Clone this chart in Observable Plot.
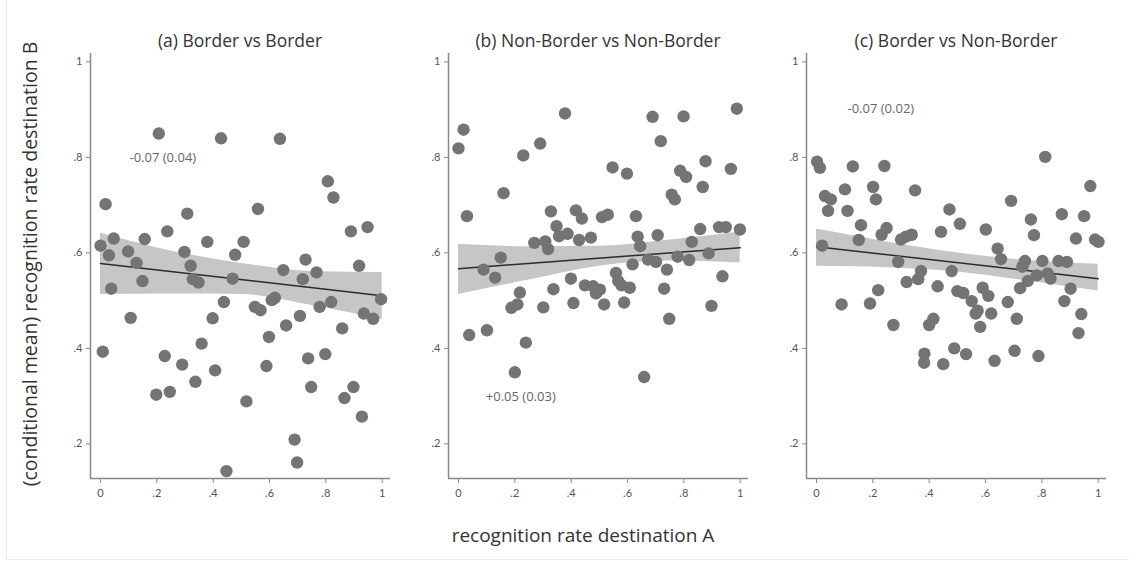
<!DOCTYPE html>
<html>
<head>
<meta charset="utf-8">
<script src="https://cdn.jsdelivr.net/npm/d3@7"></script>
<script src="https://cdn.jsdelivr.net/npm/@observablehq/plot@0.6"></script>
<style>
  html, body { margin: 0; padding: 0; background: #fff; }
  #wrap { position: relative; width: 1129px; height: 563px; overflow: hidden; font-family: "Open Sans", Lato, sans-serif; }
  .frame { position: absolute; left: 6px; top: 0px; width: 1130px; height: 560px; border-left: 1px solid #ececec; border-bottom: 1px solid #ececec; box-sizing: border-box; }
  .panel { position: absolute; top: 0; }
  .title { position: absolute; top: 28px; font-size: 17.5px; color: #333; text-align: center; width: 300px; white-space: nowrap; line-height: 24px; }
  .xlab { position: absolute; left: 383px; width: 400px; top: 522px; text-align: center; font-size: 19px; color: #333; line-height: 26px; }
  .ylab { position: absolute; left: 30px; top: 264px; transform: translate(-50%, -50%) rotate(-90deg); font-size: 19.5px; color: #333; white-space: nowrap; line-height: 26px; }
</style>
</head>
<body>
<div id="wrap">
  <div class="frame"></div>
</div>
<script>
// ---- data ----
const panelTitles = ["(a) Border vs Border", "(b) Non-Border vs Non-Border", "(c) Border vs Non-Border"];
const slopeLabels = ["-0.07 (0.04)", "+0.05 (0.03)", "-0.07 (0.02)"];
const slopeLabelX = [0.103, 0.097, 0.110];
const slopeLabelY = [0.800, 0.298, 0.901];

const xTicks = [0, 0.2, 0.4, 0.6, 0.8, 1];
const xTickLabels = ["0", ".2", ".4", ".6", ".8", "1"];
const yTicks = [0.2, 0.4, 0.6, 0.8, 1];
const yTickLabels = [".2", ".4", ".6", ".8", "1"];

const aX = [0.207,0.428,0.637,0.807,0.827,0.018,0.308,0.559,
  0.000,0.030,0.047,0.038,0.008,0.098,0.128,0.107,0.157,0.149,0.198,0.228,0.237,0.246,0.290,0.298,0.320,0.328,0.348,0.337,0.359,0.379,0.398,0.407,0.438,0.447,0.469,0.478,0.508,0.518,0.548,0.568,0.589,0.598,0.608,0.619,0.649,0.659,0.689,0.698,0.708,0.718,0.728,0.737,0.748,0.767,0.778,0.798,0.819,0.858,0.866,0.889,0.898,0.918,0.928,0.948,0.935,0.968,0.996];
const aY = [0.850,0.840,0.839,0.750,0.716,0.702,0.682,0.692,
  0.615,0.595,0.630,0.525,0.393,0.603,0.579,0.464,0.629,0.541,0.303,0.384,0.645,0.309,0.366,0.602,0.573,0.545,0.538,0.330,0.410,0.623,0.463,0.354,0.497,0.143,0.546,0.596,0.623,0.289,0.487,0.480,0.363,0.424,0.501,0.506,0.564,0.448,0.209,0.161,0.468,0.545,0.586,0.379,0.319,0.559,0.487,0.388,0.497,0.442,0.296,0.645,0.319,0.573,0.257,0.654,0.473,0.462,0.503];

const bX = [0.000,0.018,0.160,0.230,0.290,0.378,0.328,0.417,0.547,0.598,0.689,0.718,0.799,0.988,0.787,0.808,0.877,0.967,0.757,0.768,0.867,0.030,0.509,0.530,0.630,
  0.038,0.089,0.101,0.130,0.150,0.188,0.209,0.218,0.200,0.239,0.269,0.301,0.308,0.318,0.337,0.348,0.357,0.387,0.399,0.408,0.428,0.438,0.449,0.470,0.478,0.488,0.502,0.517,0.559,0.567,0.579,0.588,0.608,0.618,0.636,0.645,0.659,0.673,0.701,0.707,0.730,0.740,0.748,0.778,0.819,0.828,0.858,0.888,0.898,0.925,0.949,0.937,0.999];
const bY = [0.819,0.858,0.725,0.804,0.829,0.892,0.687,0.689,0.779,0.766,0.885,0.834,0.886,0.902,0.772,0.759,0.792,0.776,0.722,0.712,0.738,0.677,0.675,0.680,0.677,
  0.428,0.565,0.438,0.548,0.590,0.485,0.492,0.517,0.350,0.412,0.621,0.486,0.624,0.608,0.524,0.656,0.635,0.640,0.546,0.495,0.627,0.672,0.532,0.632,0.530,0.515,0.523,0.492,0.558,0.541,0.532,0.496,0.527,0.576,0.634,0.614,0.340,0.586,0.581,0.637,0.525,0.565,0.462,0.592,0.585,0.623,0.650,0.599,0.489,0.654,0.654,0.551,0.649];

const cX = [0.002,0.012,0.129,0.241,0.812,0.030,0.051,0.101,0.201,0.211,0.350,0.472,0.691,0.972,0.041,0.110,0.158,0.509,0.761,0.871,0.950,
  0.020,0.089,0.150,0.190,0.219,0.231,0.249,0.273,0.290,0.300,0.318,0.338,0.320,0.361,0.371,0.383,0.382,0.400,0.415,0.430,0.442,0.450,0.480,0.489,0.500,0.521,0.531,0.551,0.565,0.572,0.581,0.590,0.610,0.601,0.620,0.632,0.643,0.655,0.679,0.703,0.711,0.723,0.731,0.740,0.750,0.772,0.782,0.788,0.802,0.821,0.831,0.859,0.889,0.880,0.902,0.921,0.930,0.940,0.989,1.001];
const cY = [0.791,0.778,0.781,0.782,0.801,0.719,0.712,0.733,0.738,0.712,0.731,0.691,0.709,0.740,0.688,0.688,0.658,0.661,0.670,0.681,0.677,
  0.615,0.492,0.627,0.494,0.522,0.638,0.652,0.449,0.581,0.628,0.634,0.638,0.539,0.545,0.562,0.389,0.370,0.449,0.462,0.530,0.644,0.367,0.562,0.400,0.520,0.516,0.388,0.499,0.473,0.479,0.445,0.527,0.510,0.649,0.473,0.374,0.609,0.587,0.497,0.395,0.462,0.526,0.571,0.583,0.541,0.637,0.553,0.384,0.583,0.557,0.546,0.583,0.581,0.499,0.525,0.630,0.432,0.472,0.628,0.623];

// fitted line (ends) and confidence band
const lineX = [0, 1];
const aLine = [0.578, 0.510];
const bLine = [0.567, 0.611];
const cLine = [0.613, 0.546];
const bandX = [0, 0.25, 0.5, 0.75, 1];
const aLo = [0.513, 0.514, 0.513, 0.490, 0.461];
const aHi = [0.641, 0.604, 0.578, 0.561, 0.559];
const bLo = [0.513, 0.543, 0.572, 0.583, 0.579];
const bHi = [0.618, 0.613, 0.614, 0.627, 0.644];
const cLo = [0.572, 0.569, 0.560, 0.541, 0.520];
const cHi = [0.650, 0.623, 0.600, 0.584, 0.576];

// ---- drawing ----
const xDomain = [-0.0355, 1.0295];
const yDomain = [0.1275, 1.0176];
const xFmt = new Map(xTicks.map((t, i) => [t, xTickLabels[i]]));
const yFmt = new Map(yTicks.map((t, i) => [t, yTickLabels[i]]));

const panels = [
  {left: 50, xs: aX, ys: aY, line: aLine, lo: aLo, hi: aHi},
  {left: 408, xs: bX, ys: bY, line: bLine, lo: bLo, hi: bHi},
  {left: 766, xs: cX, ys: cY, line: cLine, lo: cLo, hi: cHi}
];

const wrap = document.getElementById("wrap");
panels.forEach((p, k) => {
  const pts = p.xs.map((x, i) => ({x, y: p.ys[i]}));
  const band = bandX.map((x, i) => ({x, lo: p.lo[i], hi: p.hi[i]}));
  const fit = lineX.map((x, i) => ({x, y: p.line[i]}));
  const chart = Plot.plot({
    width: 350, height: 528,
    marginLeft: 40, marginRight: 10, marginTop: 53, marginBottom: 50,
    x: {domain: xDomain},
    y: {domain: yDomain},
    style: {fontFamily: "Lato, 'Open Sans', sans-serif", fontSize: "11px", color: "#555", background: "transparent", overflow: "visible"},
    marks: [
      Plot.areaY(band, {x: "x", y1: "lo", y2: "hi", fill: "#c6c6c6", curve: "monotone-x"}),
      Plot.line(fit, {x: "x", y: "y", stroke: "#2b2b2b", strokeWidth: 1.5}),
      Plot.dot(pts, {x: "x", y: "y", r: 6.2, fill: "#747474", stroke: "none"}),
      Plot.axisX({ticks: xTicks, tickFormat: d => xFmt.get(d), tickSize: 5, tickPadding: 6, label: null, stroke: "#888", fill: "#555"}),
      Plot.axisY({ticks: yTicks, tickFormat: d => yFmt.get(d), tickSize: 4, tickPadding: 4, label: null, stroke: "#888", fill: "#555"}),
      Plot.ruleX([xDomain[0]], {stroke: "#888", strokeWidth: 1.5}),
      Plot.ruleY([yDomain[0]], {stroke: "#888", strokeWidth: 1.5}),
      Plot.text([slopeLabels[k]], {x: () => slopeLabelX[k], y: () => slopeLabelY[k], text: d => d, textAnchor: "start", fontSize: 13, fontFamily: "'Open Sans', sans-serif", fill: "#666"})
    ]
  });
  const holder = document.createElement("div");
  holder.className = "panel";
  holder.style.left = p.left + "px";
  holder.appendChild(chart);
  wrap.appendChild(holder);

  const t = document.createElement("div");
  t.className = "title";
  t.style.left = (p.left + 40) + "px";
  t.textContent = panelTitles[k];
  wrap.appendChild(t);
});

const xl = document.createElement("div");
xl.className = "xlab";
xl.textContent = "recognition rate destination A";
wrap.appendChild(xl);
const yl = document.createElement("div");
yl.className = "ylab";
yl.textContent = "(conditional mean) recognition rate destination B";
wrap.appendChild(yl);
</script>
</body>
</html>
